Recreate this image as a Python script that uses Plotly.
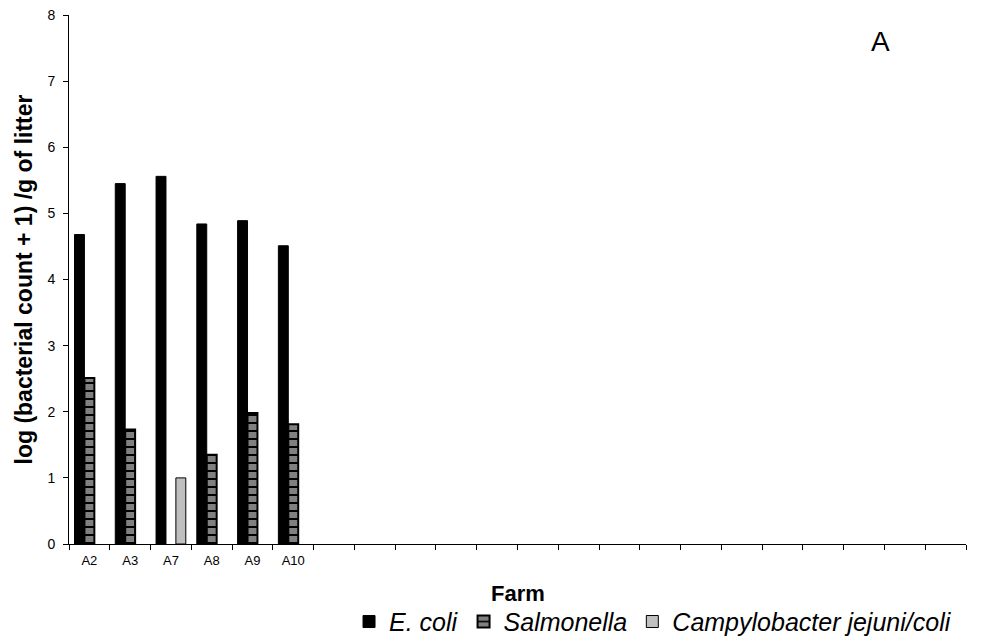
import plotly.graph_objects as go

# Farm slots on the x axis (only the first six farms have data)
farms = ["A2", "A3", "A7", "A8", "A9", "A10"]
n_slots = 22
slot_ids = farms + [f"slot{i}" for i in range(len(farms), n_slots)]
slot_labels = farms + [""] * (n_slots - len(farms))

# log (bacterial count + 1) per g of litter
ecoli = [4.68, 5.45, 5.56, 4.84, 4.89, 4.51]
salmonella = [2.51, 1.73, None, 1.35, 1.98, 1.81]
campylobacter = [None, None, 1.00, None, None, None]

FONT = "Liberation Sans, Arial, sans-serif"

fig = go.Figure()
fig.add_trace(go.Bar(
    x=farms, y=ecoli, name="<i>E. coli</i>",
    marker=dict(color="black", line=dict(color="black", width=1)),
))
fig.add_trace(go.Bar(
    x=farms, y=salmonella, name="<i>Salmonella</i>",
    marker=dict(
        color="black",
        line=dict(color="black", width=2),
        pattern=dict(shape="-", fgcolor="white", bgcolor="black",
                     size=8, solidity=0.75),
    ),
))
fig.add_trace(go.Bar(
    x=farms, y=campylobacter, name="<i>Campylobacter jejuni/coli</i>",
    marker=dict(color="#c0c0c0", line=dict(color="black", width=1)),
))

fig.update_layout(
    width=994, height=643,
    margin=dict(l=69, r=28, t=15, b=99, autoexpand=False),
    plot_bgcolor="white", paper_bgcolor="white",
    font=dict(family=FONT, color="black", size=14),
    barmode="group", bargap=0.27, bargroupgap=0,
    showlegend=True,
    legend=dict(
        orientation="h", x=0.99, xanchor="right",
        yref="container", y=0.033, yanchor="middle",
        font=dict(size=25, family=FONT), bgcolor="rgba(0,0,0,0)",
        itemwidth=30, tracegroupgap=0,
    ),
    annotations=[
        dict(text="A", x=0.905, y=0.95, xref="paper", yref="paper",
             showarrow=False, font=dict(size=28, family=FONT),
             xanchor="center", yanchor="middle"),
        # x-axis title
        dict(text="<b>Farm</b>", x=0.5, y=-0.093, xref="paper", yref="paper",
             showarrow=False, font=dict(size=22, family=FONT),
             xanchor="center", yanchor="middle"),
    ],
)

fig.update_xaxes(
    type="category", categoryorder="array", categoryarray=slot_ids,
    tickmode="array", tickvals=slot_ids, ticktext=slot_labels,
    tickson="boundaries", ticks="outside", ticklen=5, tickcolor="black",
    showline=True, linecolor="black", linewidth=1, showgrid=False,
    tickfont=dict(size=13), ticklabelstandoff=4,
    range=[-0.5, n_slots - 0.5], automargin=False,
)
fig.update_yaxes(
    range=[0, 8], dtick=1, ticks="outside", ticklen=5, tickcolor="black",
    showline=True, linecolor="black", linewidth=1, showgrid=False,
    zeroline=False, tickfont=dict(size=14), ticklabelstandoff=5,
    automargin=False,
    title=dict(text="<b>log (bacterial count + 1) /g of litter</b>",
               font=dict(size=23), standoff=8),
)

fig.write_html("out.html")
